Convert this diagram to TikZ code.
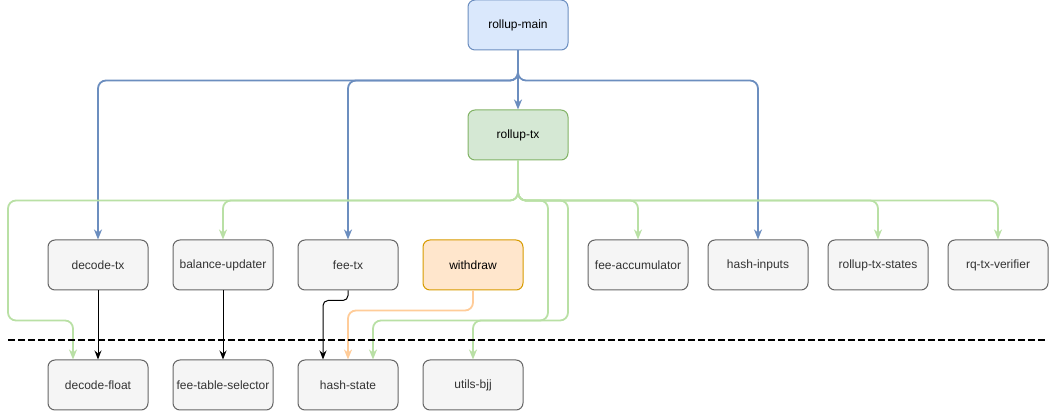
\documentclass[tikz,border=0pt]{standalone}
\usepackage{fontspec}
\setmainfont{Liberation Sans}
\usetikzlibrary{arrows.meta}
\definecolor{bluefill}{HTML}{DAE8FC}
\definecolor{bluestroke}{HTML}{6C8EBF}
\definecolor{greenfill}{HTML}{D5E8D4}
\definecolor{greenstroke}{HTML}{82B366}
\definecolor{orangefill}{HTML}{FFE6CC}
\definecolor{orangestroke}{HTML}{D79B00}
\definecolor{grayfill}{HTML}{F5F5F5}
\definecolor{graystroke}{HTML}{666666}
\definecolor{graytext}{HTML}{333333}
\definecolor{greenedgecol}{HTML}{B9E0A5}
\definecolor{orangeedgecol}{HTML}{FFCC99}
\tikzset{
  box/.style={draw=graystroke, fill=grayfill, text=graytext, line width=1pt,
    rounded corners=7pt, minimum width=100pt, minimum height=50pt,
    inner sep=0pt, font=\fontsize{12pt}{14pt}\selectfont},
  bluebox/.style={box, draw=bluestroke, fill=bluefill, text=black},
  greenbox/.style={box, draw=greenstroke, fill=greenfill, text=black},
  orangebox/.style={box, draw=orangestroke, fill=orangefill, text=black},
  tip/.style={-{Stealth[length=10pt,width=8pt,inset=3pt]}},
  blueedge/.style={tip, draw=bluestroke, line width=1.8pt, rounded corners=8pt},
  greenedge/.style={tip, draw=greenedgecol, line width=1.8pt, rounded corners=8pt},
  orangeedge/.style={tip, draw=orangeedgecol, line width=1.8pt, rounded corners=8pt},
  blackedge/.style={-{Stealth[length=9pt,width=7pt,inset=3pt]}, draw=black, line width=1pt},
  divider/.style={draw=black, line width=1.8pt, dash pattern=on 6.5pt off 3.5pt},
}
\begin{document}
\begin{tikzpicture}[x=1pt,y=-1pt]
\useasboundingbox (0,0) rectangle (1050,411);

\node[bluebox] (main) at (518,25) {rollup-main};
\node[greenbox] (rtx) at (518,135) {rollup-tx};

\node[box] (dtx) at (98,265) {decode-tx};
\node[box] (bup) at (223,265) {balance-updater};
\node[box] (ftx) at (348,265) {fee-tx};
\node[orangebox] (wdr) at (473,265) {withdraw};
\node[box] (fac) at (638,265) {fee-accumulator};
\node[box] (hin) at (758,265) {hash-inputs};
\node[box] (rts) at (878,265) {rollup-tx-states};
\node[box] (rqv) at (998,265) {rq-tx-verifier};

\node[box] (dfl) at (98,385) {decode-float};
\node[box] (fts) at (223,385) {fee-table-selector};
\node[box] (hs) at (348,385) {hash-state};
\node[box] (ubj) at (473,385) {utils-bjj};

% blue edges from rollup-main
\draw[blueedge] (main.south) -- ++(0,30) -| (dtx.north);
\draw[blueedge] (main.south) -- ++(0,30) -| (ftx.north);
\draw[blueedge] (main.south) -- (rtx.north);
\draw[blueedge] (main.south) -- ++(0,30) -| (hin.north);

% green edges from rollup-tx
\draw[greenedge] (rtx.south) -- ++(0,40) -- ++(-510,0) -- ++(0,120) -| ([xshift=-25pt]dfl.north);
\draw[greenedge] (rtx.south) -- ++(0,40) -| (bup.north);
\draw[greenedge] (rtx.south) -- ++(0,40) -- ++(30,0) -- ++(0,120) -| ([xshift=25pt]hs.north);
\draw[greenedge] (rtx.south) -- ++(0,40) -- ++(50,0) -- ++(0,120) -| (ubj.north);
\draw[greenedge] (rtx.south) -- ++(0,40) -| (fac.north);
\draw[greenedge] (rtx.south) -- ++(0,40) -| (rts.north);
\draw[greenedge] (rtx.south) -- ++(0,40) -| (rqv.north);

% black edges
\draw[blackedge] (dtx.south) -- (dfl.north);
\draw[blackedge] (bup.south) -- (fts.north);
\draw[blackedge, rounded corners=5pt] (ftx.south) -- ++(0,10) -| ([xshift=-25pt]hs.north);

% orange edge
\draw[orangeedge] (wdr.south) -- ++(0,20) -| (hs.north);

% divider
\coordinate (dl) at (8,340);
\coordinate (dr) at (1048,340);
\draw[divider] (dl) -- (dr);
\end{tikzpicture}
\end{document}
